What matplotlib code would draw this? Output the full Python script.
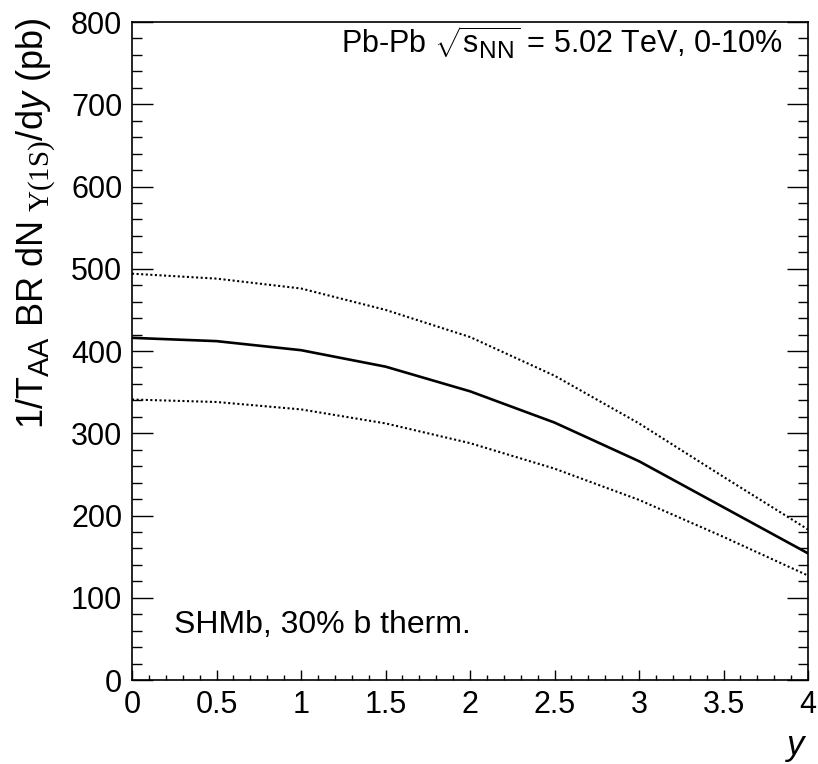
import numpy as np
import matplotlib
matplotlib.use('Agg')
import matplotlib.pyplot as plt
from matplotlib.ticker import MultipleLocator

# ROOT-style: subscripts nearly full size
try:
    import matplotlib._mathtext as _mt
    _mt.SHRINK_FACTOR = 0.8
except Exception:
    pass

plt.rcParams['font.family'] = ['Liberation Sans', 'DejaVu Sans']
plt.rcParams['mathtext.fontset'] = 'custom'
plt.rcParams['mathtext.rm'] = 'Liberation Sans'
plt.rcParams['mathtext.it'] = 'Liberation Sans:italic'
plt.rcParams['mathtext.sf'] = 'Liberation Serif'

# rapidity points and model curves (pb)
rap = [0, 0.5, 1, 1.5, 2, 2.5, 3, 3.5, 4]
central = [416, 412, 401, 381, 351, 313, 266, 210, 154]
upper = [494, 488, 476, 450, 417, 370, 312, 247, 183]
lower = [341, 338, 329, 312, 288, 257, 219, 174, 127]

fig = plt.figure(figsize=(8.18, 7.64), dpi=100)
ax = fig.add_axes([132/818, 1-680/764, (808-132)/818, (680-22)/764])

ax.plot(rap, central, color='black', lw=1.9, solid_joinstyle='round')
ax.plot(rap, upper, color='black', lw=1.5, linestyle=(0, (1, 1.2)))
ax.plot(rap, lower, color='black', lw=1.5, linestyle=(0, (1, 1.2)))

ax.set_xlim(0, 4)
ax.set_ylim(0, 800)
ax.xaxis.set_major_locator(MultipleLocator(0.5))
ax.xaxis.set_minor_locator(MultipleLocator(0.1))
ax.yaxis.set_major_locator(MultipleLocator(100))
ax.yaxis.set_minor_locator(MultipleLocator(20))
ax.set_xticks([0, 0.5, 1, 1.5, 2, 2.5, 3, 3.5, 4])
ax.set_xticklabels(['0', '0.5', '1', '1.5', '2', '2.5', '3', '3.5', '4'])

ax.tick_params(axis='y', which='both', direction='in', left=True, right=True, labelsize=22, pad=7)
ax.tick_params(axis='y', which='major', length=15, width=1)
ax.tick_params(axis='y', which='minor', length=7.5, width=1)
ax.tick_params(axis='x', which='both', direction='in', bottom=True, top=False, labelsize=22, pad=7)
ax.tick_params(axis='x', which='major', length=7, width=1)
ax.tick_params(axis='x', which='minor', length=3.5, width=1)
for s in ax.spines.values():
    s.set_linewidth(1.2)

ax.set_xlabel(r'$y$', fontsize=25, loc='right')
ax.xaxis.set_label_coords(1.0, -0.077)
ax.set_ylabel(r'1/T$_{\mathrm{AA}}$ BR dN$\;_{\mathsf{\Upsilon(1S)}}$/d$y$ (pb)', fontsize=26, loc='top')
ax.yaxis.set_label_coords(-0.11, 1.006)

ax.text(0.963, 0.952, r'Pb-Pb $\sqrt{\mathrm{s}_{\mathrm{NN}}}$ = 5.02 TeV, 0-10%',
        transform=ax.transAxes, ha='right', va='baseline', fontsize=22)
ax.text(0.062, 0.0714, 'SHMb, 30% b therm.', transform=ax.transAxes,
        ha='left', va='baseline', fontsize=23)

fig.savefig('out.png', dpi=100)
